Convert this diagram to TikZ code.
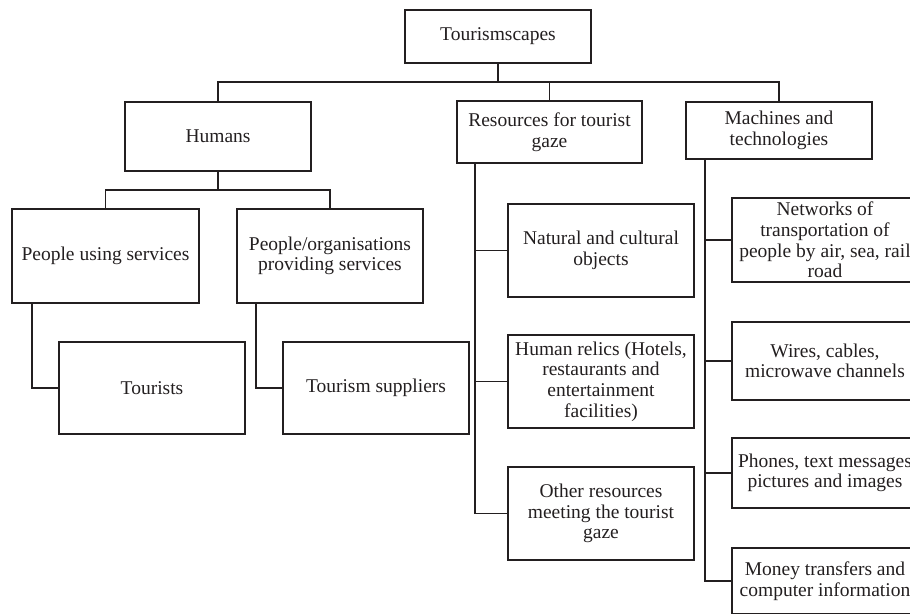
\documentclass[tikz,border=0pt]{standalone}
\usepackage{fontspec}
\setmainfont{Liberation Serif}
\definecolor{ink}{HTML}{231F20}
\begin{document}
\begin{tikzpicture}[x=1pt,y=-1pt,
  box/.style={draw=ink, line width=1.5pt, align=center, inner sep=0pt, text=ink,
    font=\fontsize{19.5}{20.6}\selectfont},
  sz/.style 2 args={minimum width=#1pt, minimum height=#2pt},
  conn/.style={draw=ink, line width=1.5pt},
  thickconn/.style={draw=ink, line width=2.6pt}]
\useasboundingbox (0,0) rectangle (910,613);
\clip (0,0) rectangle (910,613);

% level 0
\node[box, sz={186}{53}] (top) at (498,36.5) {Tourismscapes};
% level 1
\node[box, sz={186}{69}] (humans) at (218,136.5) {Humans};
\node[box, sz={185}{62}] (resources) at (549.5,132) {Resources for tourist\\gaze};
\node[box, sz={186}{57}] (machines) at (779,130.5) {Machines and\\technologies};
% humans branch
\node[box, sz={187}{94}] (pus) at (105.5,256) {People using services};
\node[box, sz={186}{94}] (ppo) at (330,256) {People/organisations\\providing services};
\node[box, sz={186}{92}] (tourists) at (152,388) {Tourists};
\node[box, sz={186}{92}] (suppliers) at (376,388) {Tourism suppliers};
% resources branch
\node[box, sz={186}{93}] (natural) at (601,250.5) {Natural and cultural\\objects};
\node[box, sz={186}{93}] (relics) at (601,381.5) {Human relics (Hotels,\\restaurants and\\entertainment\\facilities)};
\node[box, sz={186}{93}] (other) at (601,513.5) {Other resources\\meeting the tourist\\gaze};
% machines branch
\node[box, sz={186}{84}] (networks) at (825,240) {Networks of\\transportation of\\people by air, sea, rail\\road};
\node[box, sz={186}{78}] (wires) at (825,361) {Wires, cables,\\microwave channels};
\node[box, sz={186}{70}] (phones) at (825,473) {Phones, text messages\\pictures and images};
\node[box, sz={186}{66}] (money) at (825,581) {Money transfers and\\computer information};

% helper coordinates
\coordinate (bus) at (498,82);
\coordinate (hbus) at (218,190);
\coordinate (ptrunk) at (32,0);
\coordinate (qtrunk) at (256,0);
\coordinate (rtrunk) at (475,0);
\coordinate (mtrunk) at (705,0);

% connectors
\draw[conn] (humans.north) |- (bus) -| (machines.north);
\draw[conn] (resources.north) -- (resources.north |- bus);
\draw[thickconn] (top.south) -- (bus) -- (bus -| resources.north);

\draw[conn] (humans.south) -- (hbus);
\draw[conn] (pus.north) |- (hbus) -| (ppo.north);

\draw[conn] (pus.south -| ptrunk) |- (tourists.west);
\draw[conn] (ppo.south -| qtrunk) |- (suppliers.west);

\draw[conn] (resources.south -| rtrunk) |- (other.west);
\draw[conn] (natural.west) -- (natural.west -| rtrunk);
\draw[conn] (relics.west) -- (relics.west -| rtrunk);

\draw[conn] (machines.south -| mtrunk) |- (money.west);
\draw[conn] (networks.west) -- (networks.west -| mtrunk);
\draw[conn] (wires.west) -- (wires.west -| mtrunk);
\draw[conn] (phones.west) -- (phones.west -| mtrunk);
\end{tikzpicture}
\end{document}
